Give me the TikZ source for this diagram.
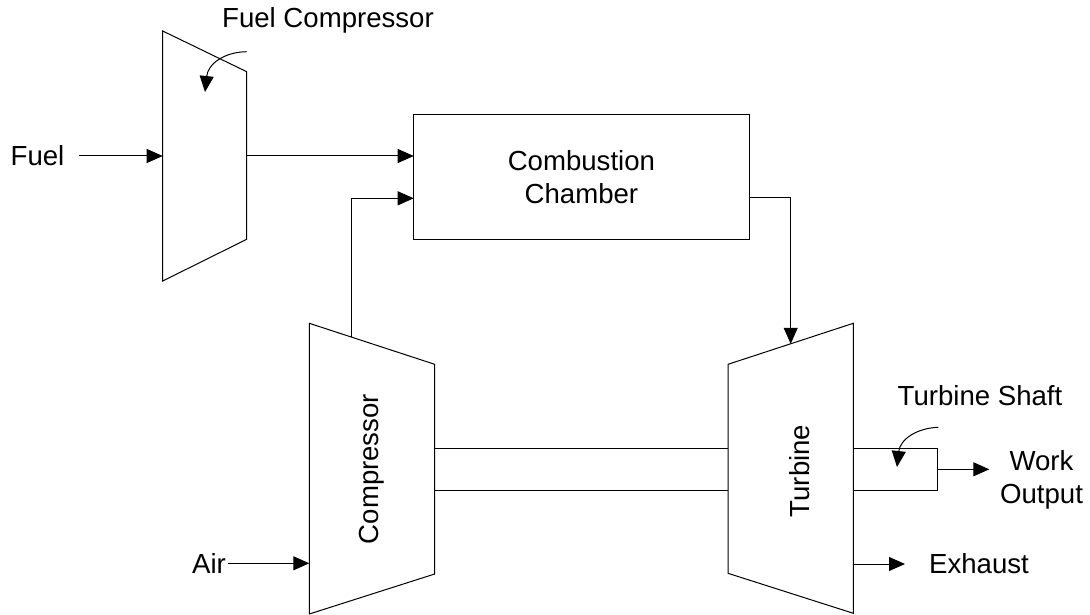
\documentclass[tikz,border=0pt]{standalone}
\usepackage{fontspec}
\setmainfont{Liberation Sans}
\usetikzlibrary{arrows.meta}
\begin{document}
\begin{tikzpicture}[x=1pt,y=-1pt, line width=1pt,
  lbl/.style={font=\fontsize{27.6}{33}\selectfont, inner sep=0pt, align=center},
  flow/.style={-{Triangle[length=16pt,width=14pt]}},
  part/.style={draw, line width=1pt}]
\useasboundingbox (0,0) rectangle (1090,615);

% Fuel compressor
\draw[part] (162.7,31) coordinate (fcTL) -- (246.7,71.7) coordinate (fcTR)
  -- (246.7,239.3) coordinate (fcBR) -- (162.7,281) coordinate (fcBL) -- cycle;
\node[lbl] (fclabel) at (328,20) {Fuel Compressor};
\coordinate (fcA) at (246.7,51.7);
\coordinate (fcB) at (205,92);
\draw[flow] (fcA) .. controls (224,52) and (208,64) .. (fcB);

% Fuel inlet
\node[lbl] (fuel) at (37.5,156) {Fuel};
\coordinate (fuelS) at (79,156);
\coordinate (fcIn) at (162.7,156);
\draw[flow] (fuelS) -- (fcIn);

% Combustion chamber
\node[lbl, draw, line width=1pt, minimum width=335.3pt, minimum height=125pt] (cc) at (581.4,176.8) {Combustion\\Chamber};
\coordinate (fcOut) at (246.7,156);
\coordinate (ccIn1) at (413.7,156);
\draw[flow] (fcOut) -- (ccIn1);

% Compressor
\draw[part] (309.3,323.3) coordinate (cTL) -- (434.7,364.3) coordinate (cTR)
  -- (434.7,574) coordinate (cBR) -- (309.3,614) coordinate (cBL) -- cycle;
\node[lbl, rotate=90] (clabel) at (371.7,469) {Compressor};
\coordinate (cOut) at (351,336.9);
\coordinate (ccIn2) at (413.7,198.3);
\draw[flow] (cOut) |- (ccIn2);

% Air inlet
\node[lbl] (air) at (209,563.3) {Air};
\coordinate (cIn) at (309.3,563.3);
\draw[flow] (air.east) ++(2,0) coordinate (airS) -- (cIn);

% Turbine
\draw[part] (728,364.3) coordinate (tTL) -- (853.3,323.3) coordinate (tTR)
  -- (853.3,613.3) coordinate (tBR) -- (728,573.3) coordinate (tBL) -- cycle;
\node[lbl, rotate=90] (tlabel) at (800,471) {Turbine};
\coordinate (ccOut) at (749,197.7);
\coordinate (tIn) at (790.7,343.8);
\draw[flow] (ccOut) -| (tIn);

% Shaft
\coordinate (s1a) at (434.7,448.5);
\coordinate (s1b) at (728,448.5);
\coordinate (s2a) at (434.7,490);
\coordinate (s2b) at (728,490);
\draw (s1a) -- (s1b);
\draw (s2a) -- (s2b);

% Turbine shaft
\coordinate (tsA) at (853.3,448.5);
\coordinate (tsB) at (937.3,448.5);
\coordinate (tsC) at (937.3,490);
\coordinate (tsD) at (853.3,490);
\draw (tsA) -- (tsB) -- (tsC) -- (tsD);
\node[lbl] (tslabel) at (980,395.7) {Turbine Shaft};
\coordinate (tsArrA) at (938.3,427.3);
\coordinate (tsArrB) at (897,467);
\draw[flow] (tsArrA) .. controls (916,428) and (900,440) .. (tsArrB);

% Work output
\node[lbl] (work) at (1041.5,479.5) {Work\\Output};
\coordinate (wS) at (937.3,469.3);
\coordinate (wE) at (989.3,469.3);
\draw[flow] (wS) -- (wE);

% Exhaust
\node[lbl] (exh) at (979,564) {Exhaust};
\coordinate (eS) at (853.3,564);
\coordinate (eE) at (905,564);
\draw[flow] (eS) -- (eE);
\end{tikzpicture}
\end{document}
